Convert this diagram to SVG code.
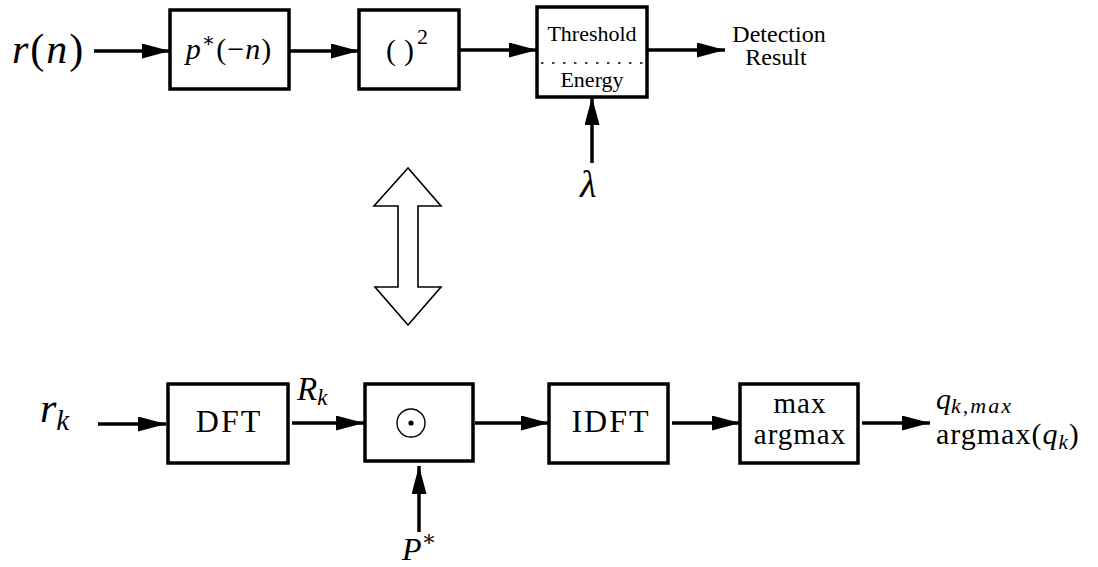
<svg xmlns="http://www.w3.org/2000/svg" width="1098" height="567" viewBox="0 0 1098 567">
<style>
.box{fill:#fff;stroke:#000;stroke-width:3.5}
.ln{stroke:#000;stroke-width:3.5;fill:none}
.t{font-family:"Liberation Serif","DejaVu Serif",serif;fill:#000}
.i{font-style:italic}
</style>
<defs>
<marker id="ah" markerUnits="userSpaceOnUse" markerWidth="30" markerHeight="16" refX="28" refY="7.5" orient="auto">
<path d="M0,0 L28,7.5 L0,15 z" fill="#000"/>
</marker>
</defs>
<rect width="1098" height="567" fill="#fff"/>

<g id="connectors">
<line class="ln" x1="94" y1="51" x2="170" y2="51" marker-end="url(#ah)"/>
<line class="ln" x1="289" y1="51" x2="359" y2="51" marker-end="url(#ah)"/>
<line class="ln" x1="459" y1="50" x2="537" y2="50" marker-end="url(#ah)"/>
<line class="ln" x1="647" y1="50" x2="725" y2="50" marker-end="url(#ah)"/>
<line class="ln" x1="592" y1="163" x2="592" y2="97" marker-end="url(#ah)"/>
<line class="ln" x1="98" y1="424" x2="166" y2="424" marker-end="url(#ah)"/>
<line class="ln" x1="292" y1="423" x2="364" y2="423" marker-end="url(#ah)"/>
<line class="ln" x1="475" y1="423" x2="549" y2="423" marker-end="url(#ah)"/>
<line class="ln" x1="672" y1="423" x2="740" y2="423" marker-end="url(#ah)"/>
<line class="ln" x1="862" y1="423" x2="930" y2="423" marker-end="url(#ah)"/>
<line class="ln" x1="419" y1="532" x2="419" y2="466" marker-end="url(#ah)"/>
<polygon id="equiv" points="408,168 374,206 398,206 398,287 375,287 408,325 441,287 418,287 418,206 441,206" fill="#fff" stroke="#000" stroke-width="1.6" stroke-linejoin="miter"/>
</g>

<g id="r-n-label"><text class="t i" x="12" y="63" font-size="42" letter-spacing="2">r<tspan font-style="normal">(</tspan>n<tspan font-style="normal">)</tspan></text></g>

<g id="matched-filter">
<rect class="box" x="170" y="10" width="119" height="79"/>
<text class="t" x="229" y="59" font-size="30" text-anchor="middle" letter-spacing="1"><tspan class="i">p</tspan><tspan font-size="20" dy="-12">∗</tspan><tspan dy="12">(−</tspan><tspan class="i">n</tspan>)</text>
</g>

<g id="square">
<rect class="box" x="359" y="10" width="100" height="79"/>
<text class="t" font-size="30" y="60"><tspan x="386">(</tspan><tspan x="404">)</tspan><tspan x="417" font-size="22" dy="-16">2</tspan></text>
</g>

<g id="threshold">
<rect class="box" x="537" y="7" width="110" height="90"/>
<line x1="541" y1="63" x2="645" y2="63" stroke="#000" stroke-width="1.3" stroke-dasharray="2.5 8.5"/>
<text class="t" x="592" y="41" font-size="22" text-anchor="middle">Threshold</text>
<text class="t" x="592" y="87" font-size="22" text-anchor="middle">Energy</text>
</g>

<g id="detection-label">
<text class="t" x="779" y="42" font-size="24" text-anchor="middle">Detection</text>
<text class="t" x="776" y="65" font-size="24" text-anchor="middle">Result</text>
</g>

<g id="lambda-label"><text class="t i" x="580" y="197" font-size="38">λ</text></g>

<g id="rk-label"><text class="t i" x="40" y="422" font-size="42">r<tspan font-size="29" dy="8">k</tspan></text></g>

<g id="dft">
<rect class="box" x="168" y="384" width="120" height="79"/>
<text class="t" x="229" y="432" font-size="32" text-anchor="middle" letter-spacing="2">DFT</text>
</g>

<g id="Rk-label"><text class="t i" x="297" y="400" font-size="33">R<tspan font-size="23" dy="5">k</tspan></text></g>

<g id="product">
<rect class="box" x="365" y="384" width="108" height="77"/>
<circle cx="411" cy="423" r="14" fill="none" stroke="#000" stroke-width="1.4"/>
<circle cx="411" cy="423" r="2.6" fill="#000"/>
</g>

<g id="Pstar-label"><text class="t i" x="402" y="560" font-size="32">P<tspan font-style="normal" font-size="22" dy="-14">∗</tspan></text></g>

<g id="idft">
<rect class="box" x="549" y="384" width="119" height="79"/>
<text class="t" x="611" y="432" font-size="32" text-anchor="middle" letter-spacing="2">IDFT</text>
</g>

<g id="maxbox">
<rect class="box" x="740" y="384" width="118" height="79"/>
<text class="t" x="800" y="413" font-size="29" text-anchor="middle" letter-spacing="1">max</text>
<text class="t" x="800" y="444" font-size="29" text-anchor="middle" letter-spacing="1">argmax</text>
</g>

<g id="output-label">
<text class="t" x="936" y="409" font-size="30"><tspan class="i">q</tspan><tspan class="i" font-size="22" dy="4" letter-spacing="2">k,max</tspan></text>
<text class="t" x="936" y="444" font-size="30" letter-spacing="1">argmax(<tspan class="i">q</tspan><tspan class="i" font-size="21" dy="5">k</tspan><tspan dy="-5">)</tspan></text>
</g>
</svg>
